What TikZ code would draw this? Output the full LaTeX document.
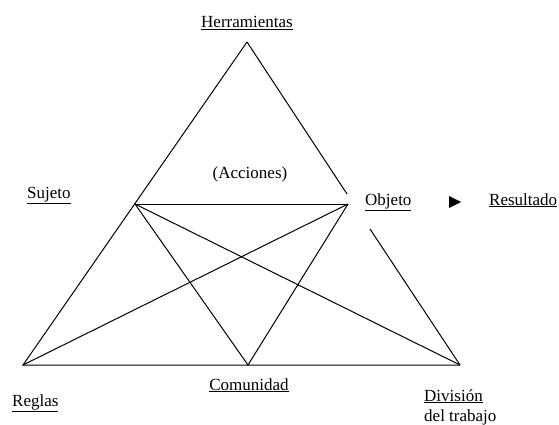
\documentclass[tikz,border=0pt]{standalone}
\usepackage{fontspec}
\setmainfont{Liberation Serif}
\usetikzlibrary{positioning}

\begin{document}
\begin{tikzpicture}[x=1pt,y=-1pt]
	% Define styles
	\tikzstyle{edge} = [line width=1pt]
	\tikzstyle{tag} = [inner sep=0pt, font=\fontsize{17}{20}\selectfont]
	
	\useasboundingbox (0,0) rectangle (559,425);
	
	% Place corners
	\coordinate (top) at (247,42);
	\coordinate (reglas) at (23,365);
	\coordinate (division) at (460,365);
	\coordinate (sujeto) at (135,204);
	\coordinate (objeto) at (348,204);
	\coordinate (comunidad) at (248,365);
	\coordinate (gapup) at (347,194); % right side stops at Objeto
	\coordinate (gapdown) at (370,229);
	
	% Place labels
	\node [tag, anchor=base] (herr) at (247,28) {\underline{Herramientas}};
	\node [tag, anchor=base] (acc) at (250,178) {(Acciones)};
	\node [tag, anchor=base west] (suj) at (27,198) {\underline{Sujeto}};
	\node [tag, anchor=base west] (obj) at (365,205) {\underline{Objeto}};
	\node [tag, anchor=base west] (res) at (489,205) {\underline{Resultado}};
	\node [tag, anchor=base] (com) at (249,390) {\underline{Comunidad}};
	\node [tag, anchor=base west] (reg) at (12,406) {\underline{Reglas}};
	\node [tag, anchor=base west] (div) at (424,401) {\underline{División}};
	\node [tag, anchor=base west] (trab) at (424,421) {del trabajo};
	
	% Arrow head to Resultado
	\fill (449,196) -- (461,202) -- (449,208) -- cycle;
	
	% Draw lines
	\draw [edge] (top) -- (reglas) -- (division);
	\draw [edge] (top) -- (gapup);
	\draw [edge] (gapdown) -- (division);
	\draw [edge] (sujeto) -- (objeto);
	\draw [edge] (sujeto) -- (comunidad) -- (objeto);
	\draw [edge] (sujeto) -- (division);
	\draw [edge] (objeto) -- (reglas);
\end{tikzpicture}
\end{document}
